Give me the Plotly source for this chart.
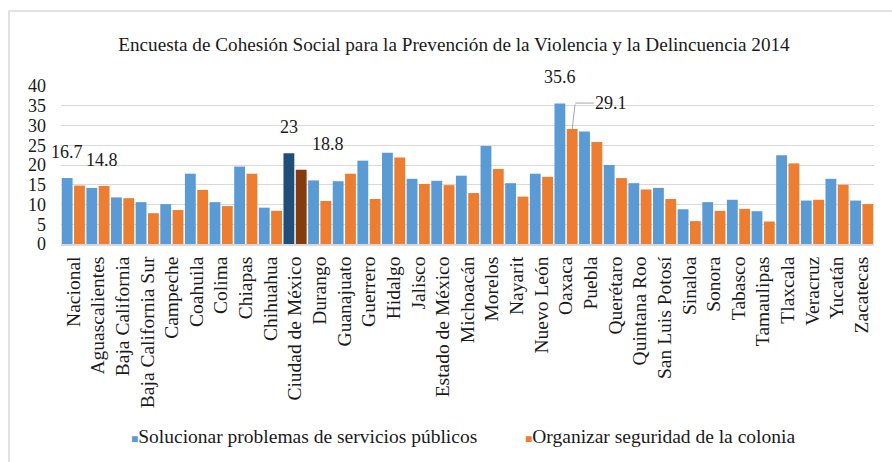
import plotly.graph_objects as go

# Encuesta de Cohesión Social para la Prevención de la Violencia y la Delincuencia 2014
estados = [
    "Nacional", "Aguascalientes", "Baja California", "Baja California Sur", "Campeche",
    "Coahuila", "Colima", "Chiapas", "Chihuahua", "Ciudad de México", "Durango",
    "Guanajuato", "Guerrero", "Hidalgo", "Jalisco", "Estado de México", "Michoacán",
    "Morelos", "Nayarit", "Nuevo León", "Oaxaca", "Puebla", "Querétaro", "Quintana Roo",
    "San Luis Potosí", "Sinaloa", "Sonora", "Tabasco", "Tamaulipas", "Tlaxcala",
    "Veracruz", "Yucatán", "Zacatecas",
]
servicios_publicos = [
    16.7, 14.2, 11.8, 10.6, 10.1, 17.8, 10.6, 19.6, 9.2, 23.0, 16.1,
    15.9, 21.1, 23.1, 16.5, 16.0, 17.3, 24.8, 15.4, 17.8, 35.6, 28.5,
    20.0, 15.4, 14.2, 8.8, 10.6, 11.2, 8.3, 22.5, 11.0, 16.5, 11.0,
]
seguridad_colonia = [
    14.8, 14.7, 11.6, 7.8, 8.6, 13.7, 9.6, 17.8, 8.4, 18.8, 10.9,
    17.8, 11.4, 21.9, 15.2, 14.9, 12.9, 19.0, 12.0, 17.0, 29.1, 25.8,
    16.7, 13.8, 11.4, 5.8, 8.4, 8.9, 5.7, 20.4, 11.2, 15.0, 10.1,
]
serie_nombres = ["Solucionar problemas de servicios públicos",
                 "Organizar seguridad de la colonia"]
y_ticks = [0, 5, 10, 15, 20, 25, 30, 35, 40]

# colours: regular bars and the highlighted entity
azul, naranja = "#5B9BD5", "#ED7D31"
azul_osc, naranja_osc = "#1F4E79", "#843C0C"
destacado = "Ciudad de México"

# labelled bars: (estado, serie index, extra horizontal shift in px)
etiquetas = [
    ("Nacional", 0, 0), ("Nacional", 1, 23),
    ("Ciudad de México", 0, 0), ("Ciudad de México", 1, 27),
    ("Oaxaca", 0, 0),
]
etiqueta_guia = ("Oaxaca", 1)  # label with a leader line

W, H = 892, 462
M_L, M_R, M_T, M_B = 61, 18, 86, 218
plot_w = W - M_L - M_R
plot_h = H - M_T - M_B
cat_px = plot_w / len(estados)

FONT = "Liberation Serif"
TXT = "#1a1a1a"
GRID = "#D9D9D9"


def px_x(px):
    return (px - M_L) / plot_w


def px_y(py):
    return (H - M_B - py) / plot_h


col_azul = [azul_osc if e == destacado else azul for e in estados]
col_nar = [naranja_osc if e == destacado else naranja for e in estados]

fig = go.Figure()
fig.add_bar(x=estados, y=servicios_publicos, name=serie_nombres[0],
            marker=dict(color=col_azul, line=dict(width=0)), showlegend=False)
fig.add_bar(x=estados, y=seguridad_colonia, name=serie_nombres[1],
            marker=dict(color=col_nar, line=dict(width=0)), showlegend=False)

series = [servicios_publicos, seguridad_colonia]
offsets = [-cat_px / 4, cat_px / 4]
for est, s, dx in etiquetas:
    v = series[s][estados.index(est)]
    fig.add_annotation(x=est, y=v, text=f"{v:g}", showarrow=False,
                       xshift=offsets[s] + dx, yshift=14, yanchor="bottom",
                       font=dict(family=FONT, size=18, color=TXT))

# leader-line label: slanted segment then horizontal segment to the text
est, s = etiqueta_guia
v = series[s][estados.index(est)]
fig.add_annotation(x=est, y=v, text="", showarrow=True, arrowhead=0,
                   arrowwidth=1, arrowcolor="#A6A6A6",
                   ax=3, ay=-26, xshift=offsets[s])
fig.add_annotation(x=est, y=v, text=f"{v:g}", showarrow=True, arrowhead=0,
                   arrowwidth=1, arrowcolor="#A6A6A6",
                   ax=36, ay=0, xshift=offsets[s] + 3, yshift=26,
                   font=dict(family=FONT, size=18, color=TXT))

# legend entries: small coloured square followed by the series name
for nombre, color, x_px in [(serie_nombres[0], azul, 129), (serie_nombres[1], naranja, 523)]:
    fig.add_annotation(
        xref="paper", yref="paper", x=px_x(x_px), y=px_y(436),
        xanchor="left", yanchor="middle", showarrow=False,
        text=f"<span style='color:{color};font-size:12px'>■</span>{nombre}",
        font=dict(family=FONT, size=19.5, color=TXT))

# chart frame
fig.add_shape(type="rect", xref="paper", yref="paper",
              x0=px_x(9), x1=px_x(W + 20), y0=px_y(H + 20), y1=px_y(11),
              line=dict(color=GRID, width=1.5), layer="below")

fig.update_layout(
    template="none",
    width=W, height=H,
    margin=dict(l=M_L, r=M_R, t=M_T, b=M_B, autoexpand=False),
    paper_bgcolor="white", plot_bgcolor="white",
    barmode="group", bargap=0.0, bargroupgap=0.12,
    title=dict(text="Encuesta de Cohesión Social para la Prevención de la Violencia y la Delincuencia 2014",
               x=454 / W, xanchor="center", y=1 - 44 / H, yanchor="middle",
               font=dict(family=FONT, size=19.2, color=TXT)),
    font=dict(family=FONT, color=TXT),
    showlegend=False,
)
fig.update_xaxes(type="category", range=[-0.5, len(estados) - 0.5],
                 automargin=False, tickangle=-90, showgrid=False,
                 showline=True, linecolor=GRID, linewidth=1.5, ticks="",
                 ticklabelstandoff=3,
                 tickfont=dict(family=FONT, size=19.5, color=TXT))
fig.update_yaxes(range=[0, 40], tickvals=y_ticks, automargin=False,
                 showgrid=True, gridcolor=GRID, gridwidth=1.3,
                 zeroline=False, showline=False,
                 ticks="", ticklabelstandoff=14,
                 tickfont=dict(family=FONT, size=18, color=TXT))

fig.write_html("out.html")
